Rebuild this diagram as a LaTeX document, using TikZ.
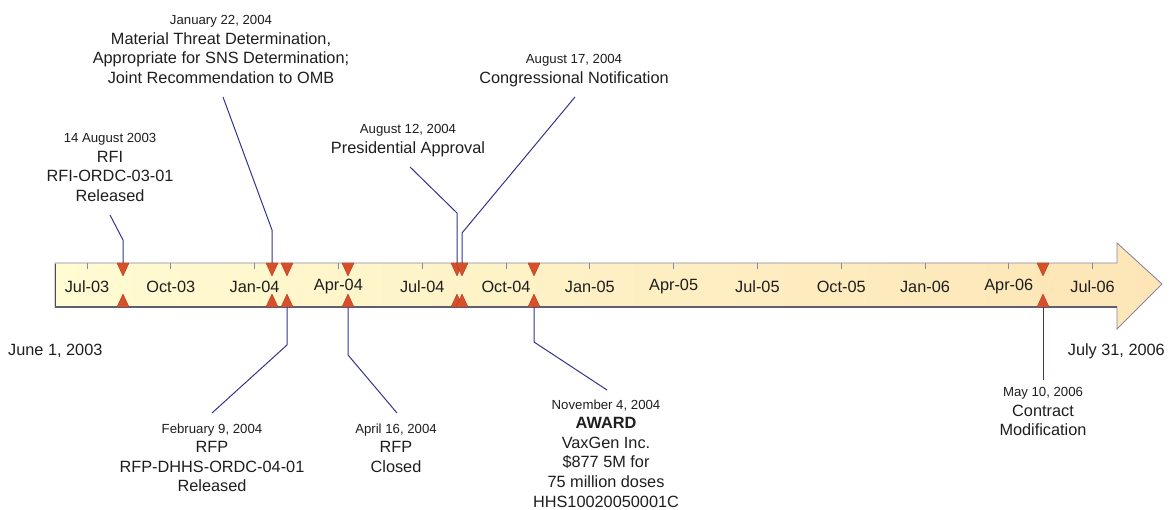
\documentclass[tikz,border=0pt]{standalone}
\usepackage{fontspec}
\setmainfont{Liberation Sans}
\definecolor{barL}{HTML}{FFFBD2}
\definecolor{barR}{HTML}{FDE5B6}
\definecolor{barEdge}{HTML}{8888A4}
\definecolor{mk}{HTML}{D8502A}
\definecolor{mkEdge}{HTML}{B03A1E}
\definecolor{conn}{HTML}{34348E}
\definecolor{txt}{HTML}{1E1E1E}
\begin{document}
\begin{tikzpicture}[x=1pt,y=-1pt,
  body/.style={font=\fontsize{16.3}{19.6}\selectfont, text=txt, align=center, inner sep=0pt, anchor=north},
  month/.style={font=\fontsize{16.3}{19.6}\selectfont, text=txt, inner sep=0pt},
  edge/.style={font=\fontsize{16.3}{19.6}\selectfont, text=txt, inner sep=0pt},
  connector/.style={draw=conn, line width=1pt},
  tick/.style={draw=barEdge, line width=0.8pt},
  mkdown/.style={fill=mk, draw=mkEdge, line width=0.4pt, line join=round},
]
\newcommand{\dt}[1]{{\fontsize{13.2}{19.6}\selectfont #1}}
\useasboundingbox (0,0) rectangle (1172,510);

% bar arrow
\shade[left color=barL, right color=barR]
  (55,263) -- (1117,263) -- (1117,243) -- (1162,284) -- (1117,329) -- (1117,307) -- (55,307) -- cycle;
\draw[draw=barEdge, line width=0.9pt, line join=miter]
  (55,263) -- (1117,263) -- (1117,243) -- (1162,284) -- (1117,329) -- (1117,307) -- (55,307) -- cycle;
\draw[draw=barEdge!70!black, line width=1.4pt] (55,307) -- (1117,307);
\draw[draw=black!70, line width=1pt] (55,264) -- (55,306);

% ticks and month labels
\foreach \lab [count=\i from 0] in {Jul-03,Oct-03,Jan-04,Apr-04,Jul-04,Oct-04,Jan-05,Apr-05,Jul-05,Oct-05,Jan-06,Apr-06,Jul-06}{
  \pgfmathsetmacro{\xx}{87+83.8*\i}
  \draw[tick] (\xx,263) -- (\xx,269);
  \node[month] (m\i) at (\xx,287) {\lab};
}

% markers
\foreach \nm/\xx in {rfi/123, mtd/272, rfp/287, cls/348, pre/457, con/462, awd/534, mod/1043}{
  \coordinate (\nm T) at (\xx,263);
  \coordinate (\nm B) at (\xx,307);
  \path[mkdown] (\xx-6,263) -- (\xx+6,263) -- (\xx,276) -- cycle;
  \path[mkdown] (\xx-6,307) -- (\xx+6,307) -- (\xx,294) -- cycle;
}

% end dates
\node[edge, anchor=west] (start) at (8,351) {June 1, 2003};
\node[edge, anchor=east] (end) at (1165,351) {July 31, 2006};

% event texts
\node[body] (tRFI) at (110,133.3) {\dt{14 August 2003}\\RFI\\RFI-ORDC-03-01\\Released};
\node[body] (tMTD) at (221,15.3) {\dt{January 22, 2004}\\Material Threat Determination,\\Appropriate for SNS Determination;\\Joint Recommendation to OMB};
\node[body] (tPRE) at (408,124.3) {\dt{August 12, 2004}\\Presidential Approval};
\node[body] (tCON) at (574,54.3) {\dt{August 17, 2004}\\Congressional Notification};
\node[body] (tRFP) at (212,423.3) {\dt{February 9, 2004}\\RFP\\RFP-DHHS-ORDC-04-01\\Released};
\node[body] (tCLS) at (396,423.3) {\dt{April 16, 2004}\\RFP\\Closed};
\node[body] (tAWD) at (606,399.3) {\dt{November 4, 2004}\\\textbf{AWARD}\\VaxGen Inc.\\\$877 5M for\\75 million doses\\HHS10020050001C};
\node[body] (tMOD) at (1043,387.3) {\dt{May 10, 2006}\\Contract\\Modification};

% connector end and bend points
\coordinate (eRFI) at (110,215);  \coordinate (bRFI) at (123,240);
\coordinate (eMTD) at (223,97);   \coordinate (bMTD) at (272,230);
\coordinate (ePRE) at (410,167);  \coordinate (bPRE) at (457,213);
\coordinate (eCON) at (575,97);   \coordinate (bCON) at (462,233);
\coordinate (eRFP) at (212,413);  \coordinate (bRFP) at (287,345);
\coordinate (eCLS) at (397,413);  \coordinate (bCLS) at (348,355);
\coordinate (eAWD) at (607,390);  \coordinate (bAWD) at (534,342);
\coordinate (eMOD) at (1043,380);

% connectors
\draw[connector] (rfiT) -- (bRFI) -- (eRFI);
\draw[connector] (mtdT) -- (bMTD) -- (eMTD);
\draw[connector] (preT) -- (bPRE) -- (ePRE);
\draw[connector] (conT) -- (bCON) -- (eCON);
\draw[connector] (rfpB) -- (bRFP) -- (eRFP);
\draw[connector] (clsB) -- (bCLS) -- (eCLS);
\draw[connector] (awdB) -- (bAWD) -- (eAWD);
\draw[connector] (modB) -- (eMOD);
\end{tikzpicture}
\end{document}
